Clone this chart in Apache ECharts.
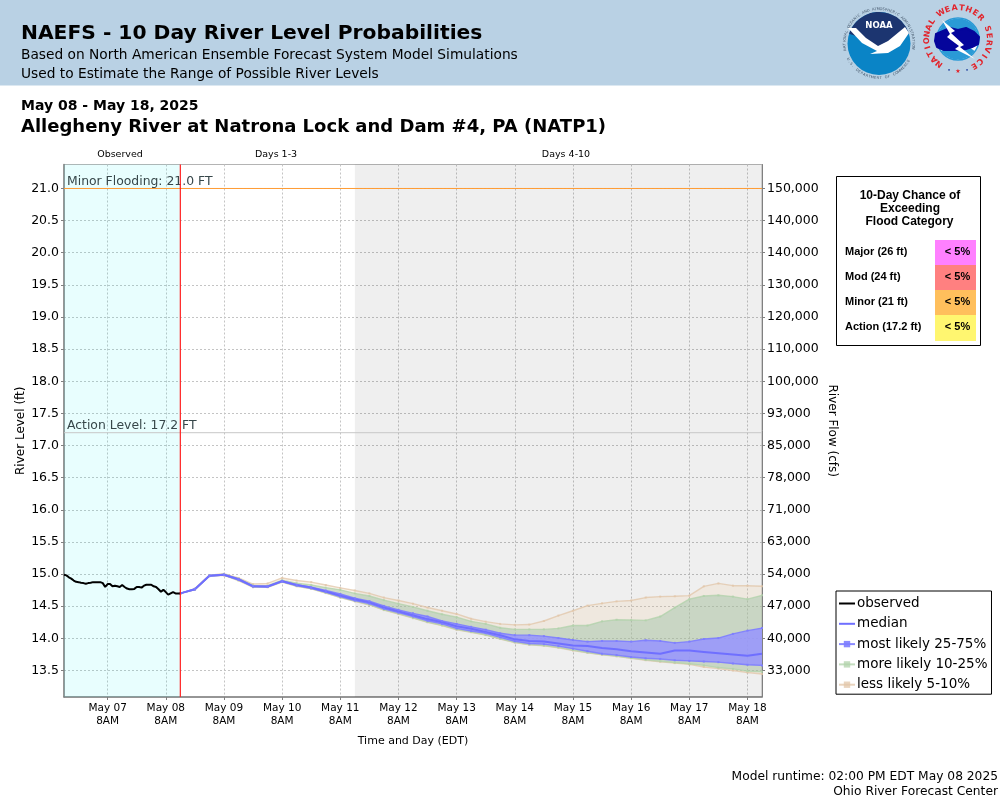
<!DOCTYPE html>
<html><head><meta charset="utf-8">
<style>html,body{margin:0;padding:0;background:#fff}#c{width:1000px;height:800px}</style>
<script src="https://cdn.jsdelivr.net/npm/echarts@6/dist/echarts.min.js"></script>
</head><body><div id="c"></div>
<script>
// x axis unit: hours since May 6 2PM EDT
const T0 = 0;
const NOW = 48;          // May 8 2PM
const DAY4 = 120;        // May 11 2PM
const TEND = 288;        // May 18 2PM
const FIRST_TICK = 18;   // May 7 8AM
const YMIN = 13.088, YMAX = 21.373;

const dayLabels = ['May 07','May 08','May 09','May 10','May 11','May 12','May 13','May 14','May 15','May 16','May 17','May 18'];
const levelTicks = [13.5,14,14.5,15,15.5,16,16.5,17,17.5,18,18.5,19,19.5,20,20.5,21];
const flowLabels = ['33,000','40,000','47,000','54,000','63,000','71,000','78,000','85,000','93,000','100,000','110,000','120,000','130,000','140,000','140,000','150,000'];

// hourly from May 6 2PM to May 8 2PM
const observed = [14.99,14.98,14.95,14.93,14.90,14.88,14.875,14.865,14.86,14.85,14.86,14.865,14.875,14.875,14.875,14.875,14.86,14.80,14.845,14.845,14.81,14.82,14.81,14.80,14.83,14.80,14.775,14.765,14.765,14.77,14.80,14.80,14.79,14.82,14.835,14.835,14.835,14.81,14.80,14.765,14.725,14.755,14.72,14.68,14.70,14.72,14.70,14.70,14.70];

// six-hourly from May 8 2PM to May 18 2PM
const median = [14.70,14.765,14.975,14.99,14.92,14.81,14.807,14.89,14.83,14.79,14.73,
 14.665,14.61,14.56,14.48,14.42,14.36,14.30,14.25,14.19,14.15,14.10,14.05,13.985,13.96,13.95,13.92,
 13.89,13.88,13.85,13.83,13.80,13.78,13.76,13.81,13.81,13.79,13.77,13.75,13.73,13.76];
const p75 = [14.70,14.77,14.98,14.995,14.925,14.815,14.81,14.895,14.835,14.795,14.745,
 14.69,14.625,14.58,14.505,14.443,14.39,14.34,14.27,14.225,14.18,14.135,14.08,14.05,14.05,14.035,14.005,
 13.975,13.95,13.96,13.96,13.95,13.97,13.96,13.93,13.95,13.99,14.005,14.07,14.12,14.16];
const p25 = [14.70,14.76,14.97,14.985,14.91,14.805,14.80,14.885,14.82,14.78,14.72,
 14.65,14.59,14.54,14.46,14.40,14.34,14.275,14.225,14.155,14.115,14.08,14.015,13.955,13.92,13.91,13.88,
 13.84,13.80,13.76,13.74,13.71,13.69,13.68,13.66,13.65,13.64,13.63,13.61,13.59,13.58];
const p90 = [14.70,14.77,14.98,15.0,14.93,14.825,14.82,14.905,14.86,14.83,14.79,
 14.755,14.70,14.66,14.595,14.54,14.49,14.43,14.375,14.33,14.265,14.225,14.165,14.14,14.14,14.14,14.155,
 14.20,14.20,14.265,14.29,14.285,14.28,14.34,14.48,14.61,14.66,14.67,14.65,14.61,14.67];
const p10 = [14.70,14.76,14.97,14.985,14.905,14.80,14.80,14.88,14.815,14.775,14.71,
 14.64,14.58,14.525,14.445,14.385,14.32,14.255,14.205,14.14,14.10,14.055,13.995,13.94,13.905,13.89,13.86,
 13.82,13.78,13.75,13.725,13.695,13.665,13.645,13.625,13.605,13.58,13.545,13.525,13.49,13.48];
const p95 = [14.70,14.775,14.985,15.005,14.94,14.845,14.855,14.94,14.90,14.875,14.83,
 14.785,14.745,14.70,14.635,14.59,14.54,14.48,14.43,14.38,14.305,14.26,14.225,14.21,14.215,14.27,14.355,
 14.43,14.51,14.545,14.575,14.59,14.635,14.65,14.655,14.665,14.81,14.855,14.82,14.82,14.81];
const p05 = [14.70,14.755,14.965,14.98,14.90,14.795,14.795,14.875,14.81,14.77,14.705,
 14.635,14.575,14.52,14.44,14.38,14.315,14.25,14.20,14.135,14.095,14.05,13.99,13.935,13.90,13.885,13.855,
 13.81,13.775,13.745,13.72,13.69,13.66,13.635,13.615,13.595,13.555,13.53,13.50,13.47,13.445];

const floodRows = ['Major (26 ft)','Mod (24 ft)','Minor (21 ft)','Action (17.2 ft)'];
const floodChance = ['< 5%','< 5%','< 5%','< 5%'];
const floodColors = ['#ff80ff','#ff8080','#ffbf5c','#fff670'];

const obsTimes = observed.map((_,i)=>T0+i);
const fcTimes = median.map((_,i)=>NOW+i*6);
const xTicks = dayLabels.map((_,i)=>FIRST_TICK+i*24);
const pair = (t,v)=>t.map((x,i)=>[x,v[i]]);

const SANS='"DejaVu Sans"', ARIAL='"Liberation Sans"';
function txt(x,y,text,size,opt){opt=opt||{};return {type:'text',x:x,y:y,z:opt.z||20,silent:true,rotation:opt.rot||0,
  style:{text:text,fontFamily:opt.font||SANS,fontSize:size,fontWeight:opt.bold?'bold':'normal',fill:opt.fill||'#000',
  align:opt.align||'left',verticalAlign:'middle'}};}
function arcText(cx,cy,r,text,startDeg,stepDeg,size,fill,bold,inward){
  const out=[];
  [...text].forEach((ch,i)=>{
    const deg=startDeg+i*stepDeg, a=deg*Math.PI/180;
    out.push(txt(cx+r*Math.sin(a),cy-r*Math.cos(a),ch,size,{align:'center',fill:fill,bold:bold,rot:inward?-(a+Math.PI):-a}));
  });
  return out;
}
const header=[
 {type:'rect',z:1,silent:true,shape:{x:0,y:0,width:1000,height:85.5},style:{fill:'#b9d1e4'}},
 txt(21,33.5,'NAEFS - 10 Day River Level Probabilities',20.25,{bold:true}),
 txt(21,55.5,'Based on North American Ensemble Forecast System Model Simulations',13.75),
 txt(21,74,'Used to Estimate the Range of Possible River Levels',13.75),
 txt(21,106,'May 08 - May 18, 2025',14,{bold:true}),
 txt(21,127,'Allegheny River at Natrona Lock and Dam #4, PA (NATP1)',18,{bold:true}),
 txt(120,154.5,'Observed',9.5,{align:'center'}),
 txt(276,154.5,'Days 1-3',9.5,{align:'center'}),
 txt(566,154.5,'Days 4-10',9.5,{align:'center'}),
 txt(998,777,'Model runtime: 02:00 PM EDT May 08 2025',12.25,{align:'right'}),
 txt(998,792,'Ohio River Forecast Center',12.25,{align:'right'})
];
const floodBox=[
 {type:'rect',z:10,silent:true,shape:{x:836.5,y:176.5,width:144,height:169},style:{fill:'#fff',stroke:'#000',lineWidth:1}},
 txt(910,196,'10-Day Chance of',12,{font:ARIAL,bold:true,align:'center'}),
 txt(910,209,'Exceeding',12,{font:ARIAL,bold:true,align:'center'}),
 txt(909.5,222,'Flood Category',12,{font:ARIAL,bold:true,align:'center'})
];
floodRows.forEach((r,i)=>{
  floodBox.push({type:'rect',z:11,silent:true,shape:{x:935,y:240+25*i,width:41,height:i===3?26:25},style:{fill:floodColors[i]}});
  floodBox.push(txt(845,252+25*i,r,11,{font:ARIAL,bold:true}));
  floodBox.push(txt(957.5,252+25*i,floodChance[i],11,{font:ARIAL,bold:true,align:'center'}));
});
const logos=[
 {type:'circle',z:12,silent:true,shape:{cx:879,cy:43.5,r:31.5},style:{fill:'#0a84c6'}},
 {type:'sector',z:13,silent:true,shape:{cx:879,cy:43.5,r:31.5,startAngle:Math.PI*1.1,endAngle:Math.PI*1.9},style:{fill:'#1c3570'}},
 {type:'polygon',z:13,silent:true,shape:{points:[[852,28],[906,28],[879,50]]},style:{fill:'#1c3570'}},
 {type:'polygon',z:14,silent:true,shape:{points:[[848,28],[856,28],[866,38],[878,46],[888,41],[905,27],[909,33],[900,46],[888,53],[870,54],[877,51],[862,43]]},style:{fill:'#fff'}},
 txt(879,26,'NOAA',8.5,{bold:true,fill:'#fff',align:'center'}),
 ...arcText(879,43.5,34.5,'NATIONAL OCEANIC AND ATMOSPHERIC ADMINISTRATION',-100,4.3,3.6,'#44566a',false,false),
 ...arcText(879,43.5,34.5,'U.S. DEPARTMENT OF COMMERCE',243,-4.7,3.6,'#44566a',false,true),
 {type:'circle',z:12,silent:true,shape:{cx:958,cy:39,r:21},style:{fill:'#fff',stroke:'#2a9ad6',lineWidth:1.5}},
 {type:'sector',z:12,silent:true,shape:{cx:958,cy:39,r:20.5,startAngle:Math.PI*1.02,endAngle:Math.PI*1.98},style:{fill:'#2a9ad6'}},
 {type:'sector',z:12,silent:true,shape:{cx:958,cy:39,r:20.5,startAngle:Math.PI*0.2,endAngle:Math.PI*0.8},style:{fill:'#2a9ad6'}},
 {type:'polygon',z:13,silent:true,shape:{points:[[935,41],[936,34],[943,31],[950,28],[958,30],[966,28],[974,32],[979,37],[978,44],[972,47],[966,49],[955,50],[944,50],[937,47]]},style:{fill:'#05059b',stroke:'#05059b',lineJoin:'round',lineWidth:2}},
 {type:'polygon',z:14,silent:true,shape:{points:[[942,20],[955,31],[951,33],[964,45],[960,47],[975,59],[955,49],[959,46],[947,37],[950,34]]},style:{fill:'#fff'}},
 ...arcText(958,39,31,'NATIONAL',-143,12.4,8,'#e2242b',true,false),
 ...arcText(958,39,31,'WEATHER',-33,13.3,8,'#e2242b',true,false),
 ...arcText(958,39,31,'SERVICE',71,13,8,'#e2242b',true,false),
 txt(958,71,'★',6,{fill:'#e2242b',align:'center'}),
 txt(949,70.5,'•',6,{fill:'#1b3a9a',align:'center'}),
 txt(967,70.5,'•',6,{fill:'#1b3a9a',align:'center'})
];

function band(lo,hi,fill,z){
  return {type:'custom',silent:true,z:z,clip:true,legendHoverLink:false,tooltip:{show:false},
    data:fcTimes.map((t,i)=>[t,lo[i],hi[i]]),encode:{x:0,y:[1,2]},
    renderItem:function(p,api){
      if(p.dataIndex!==0) return {type:'group',children:[]};
      const pts=[];
      fcTimes.forEach((t,i)=>pts.push(api.coord([t,hi[i]])));
      for(let i=fcTimes.length-1;i>=0;i--) pts.push(api.coord([fcTimes[i],lo[i]]));
      return {type:'polygon',shape:{points:pts},style:{fill:fill}};
    }};
}
function edge(name,vals,color,z){
  return {type:'line',name:name,data:pair(fcTimes,vals),z:z,silent:true,
    symbol:'rect',symbolSize:2,showSymbol:true,
    itemStyle:{color:color},lineStyle:{color:color,width:1.4},emphasis:{disabled:true}};
}
function threshold(value,color,text){
  return {type:'line',name:text,z:3,silent:true,symbol:'circle',symbolSize:0,showSymbol:true,
    itemStyle:{color:color},lineStyle:{color:color,width:1},emphasis:{disabled:true},
    data:[{value:[T0,value],label:{show:true,position:[3,-13],align:'left',verticalAlign:'top',formatter:text,fontFamily:SANS,fontSize:12.4,color:'#37474a'}},
          {value:[TEND,value],label:{show:false}}]};
}
const TAN='rgba(226,198,168,0.75)',GRN='rgba(176,210,170,0.75)',BLU='rgba(125,125,255,0.9)';
const dash=()=>({color:'#c4c4c4',type:[2,2],width:1});
const LINE_ICON='path://M0 3H16V5H0Z';
const option={
 animation:false,
 graphic:{elements:[...header,...floodBox,...logos]},
 grid:{left:64,right:238,top:164.5,bottom:103,show:true,borderColor:'#b4b4b4',borderWidth:1,backgroundColor:'#fff'},
 legend:{show:true,orient:'vertical',left:836,top:591,itemWidth:16,itemHeight:8,itemGap:6.3,padding:[5.5,4,2.5,2],
  backgroundColor:'#fff',borderColor:'#000',borderWidth:1,borderRadius:0,selectedMode:false,
  textStyle:{fontFamily:SANS,fontSize:13.5,color:'#000',padding:[0,0,0,-3]},
  data:[{name:'observed',icon:LINE_ICON},{name:'median',icon:LINE_ICON},'most likely 25-75%','more likely 10-25%','less likely 5-10%']},
 xAxis:{type:'value',min:T0,max:TEND,
  name:'Time and Day (EDT)',nameLocation:'middle',nameGap:39,nameMoveOverlap:false,nameTextStyle:{fontFamily:SANS,fontSize:11,color:'#000'},
  axisLine:{onZero:false,lineStyle:{color:'#808080',width:1.5}},
  axisTick:{show:true,length:3,lineStyle:{color:'#808080'},customValues:xTicks},
  axisLabel:{customValues:xTicks,hideOverlap:false,fontFamily:SANS,fontSize:10.5,color:'#000',lineHeight:13,margin:5,
    formatter:function(v){return dayLabels[xTicks.indexOf(v)]+'\n8AM';}},
  splitLine:{show:true,lineStyle:dash()}},
 yAxis:[
  {type:'value',min:YMIN,max:YMAX,position:'left',
   name:'River Level (ft)',nameLocation:'middle',nameGap:37,nameMoveOverlap:false,nameRotate:90,nameTextStyle:{fontFamily:SANS,fontSize:12,color:'#000'},
   axisLine:{show:true,onZero:false,lineStyle:{color:'#808080',width:1.5}},
   axisTick:{show:true,length:3,lineStyle:{color:'#808080'},customValues:levelTicks},
   axisLabel:{customValues:levelTicks,fontFamily:SANS,fontSize:12.5,color:'#000',margin:5,padding:[5,0,0,0],formatter:v=>v.toFixed(1)},
   splitLine:{show:true,lineStyle:dash()}},
  {type:'value',min:YMIN,max:YMAX,position:'right',
   name:'River Flow (cfs)',nameLocation:'middle',nameGap:64,nameMoveOverlap:false,nameRotate:-90,nameTextStyle:{fontFamily:SANS,fontSize:12,color:'#000'},
   axisLine:{show:true,onZero:false,lineStyle:{color:'#808080',width:1}},
   axisTick:{show:true,length:3,lineStyle:{color:'#808080'},customValues:levelTicks},
   axisLabel:{customValues:levelTicks,fontFamily:SANS,fontSize:12.5,color:'#000',margin:5,padding:[5,0,0,0],
     formatter:v=>flowLabels[levelTicks.indexOf(v)]},
   splitLine:{show:false}}
 ],
 series:[
  {type:'line',name:'zones',data:[],silent:true,z:1,
   markArea:{silent:true,data:[
     [{xAxis:T0,itemStyle:{color:'rgba(0,240,240,0.09)',borderWidth:0,borderColor:'transparent'}},{xAxis:NOW}],
     [{xAxis:DAY4,itemStyle:{color:'rgba(0,0,0,0.063)',borderWidth:0,borderColor:'transparent'}},{xAxis:TEND}]]}},
  {type:'line',name:'observed',data:pair(obsTimes,observed),z:8,symbol:'none',silent:true,
   lineStyle:{color:'#000',width:2},itemStyle:{color:'#000'},emphasis:{disabled:true}},
  threshold(21,'#ff9c33','Minor Flooding: 21.0 FT'),
  threshold(17.2,'#c8c8c8','Action Level: 17.2 FT'),
  band(p05,p95,'rgba(239,211,175,0.25)',2),
  band(p10,p90,'rgba(144,187,155,0.4)',3),
  band(p25,p75,'rgba(150,148,255,0.85)',4),
  edge('less likely 5-10%',p95,TAN,5),edge('less likely 5-10%',p05,TAN,5),
  edge('more likely 10-25%',p90,GRN,6),edge('more likely 10-25%',p10,GRN,6),
  edge('most likely 25-75%',p75,BLU,7),edge('most likely 25-75%',p25,BLU,7),
  {type:'line',name:'median',data:pair(fcTimes,median),z:7,symbol:'none',silent:true,
   lineStyle:{color:'#6f6fff',width:2},itemStyle:{color:'#6f6fff'},emphasis:{disabled:true}},
  {type:'line',name:'now',z:20,silent:true,symbol:'none',data:[[NOW,YMIN],[NOW,YMAX]],
   lineStyle:{color:'#ff2020',width:1.2},itemStyle:{color:'#ff2020'},emphasis:{disabled:true}}
 ]
};
echarts.init(document.getElementById('c'),null,{renderer:'canvas'}).setOption(option);
</script></body></html>
